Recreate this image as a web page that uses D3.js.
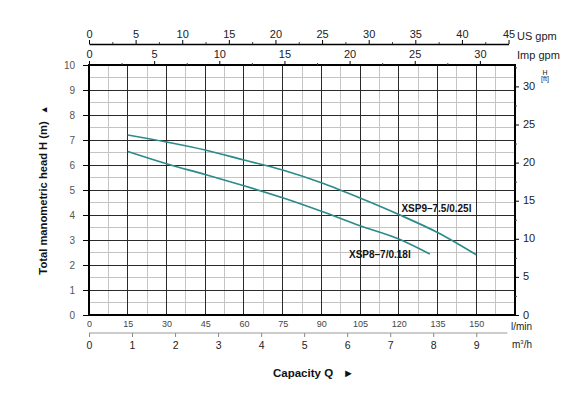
<!DOCTYPE html>
<html>
<head>
	<meta charset="utf-8">
	<title>XSP pump curves</title>
	<script src="https://d3js.org/d3.v7.min.js"></script>
	<style>
		body { margin: 0; background: #fff; }
		svg { display: block; font-family: 'Liberation Sans', Arial, sans-serif; }
	</style>
</head>
<body>
	<div class="chart"></div>

	<script type="text/javascript">

		// flow (l/min) and head (m)
		var flowXsp9 = [15, 30, 45, 60, 75, 90, 105, 120, 135, 150]
		var headXsp9 = [7.2, 6.92, 6.6, 6.2, 5.8, 5.29, 4.68, 4.02, 3.3, 2.41]
		var flowXsp8 = [15, 30, 45, 60, 75, 90, 105, 120, 132]
		var headXsp8 = [6.54, 6.05, 5.62, 5.17, 4.69, 4.15, 3.57, 3.04, 2.44]
		var seriesNames = ['XSP9–7.5/0.25l', 'XSP8–7/0.18l']

		// tick labels
		var lminTicks = [0, 15, 30, 45, 60, 75, 90, 105, 120, 135, 150]
		var m3hTicks = [0, 1, 2, 3, 4, 5, 6, 7, 8, 9]
		var usGpmTicks = [0, 5, 10, 15, 20, 25, 30, 35, 40, 45]
		var impGpmTicks = [0, 5, 10, 15, 20, 25, 30]
		var headTicks = [0, 1, 2, 3, 4, 5, 6, 7, 8, 9, 10]
		var ftTicks = [0, 5, 10, 15, 20, 25, 30]

		var width = 572
		var height = 402
		var plotLeft = 89, plotRight = 515, plotTop = 65, plotBottom = 315
		var curveColor = '#2b8a8a'

		var svg = d3
			.select('.chart')
			.append('svg')
			.attr('width', width)
			.attr('height', height)

		/**
		 * scales
		 */
		var x = d3.scaleLinear().domain([0, 165]).range([plotLeft, plotRight])
		var y = d3.scaleLinear().domain([0, 10]).range([plotBottom, plotTop])
		var yFt = d3.scaleLinear().domain([0, 10 * 3.2808]).range([plotBottom, plotTop])
		var xM3 = d3.scaleLinear().domain([0, 165 * 0.06]).range([plotLeft, plotRight])
		// the printed gpm scales do not follow the exact conversion, match the sheet
		var xUs = d3.scaleLinear().domain([0, 45]).range([plotLeft, x(162.5)])
		var xImp = d3.scaleLinear().domain([0, 30]).range([plotLeft, x(151.4)])

		/**
		 * grid
		 */
		var grid = svg.append('g').attr('shape-rendering', 'crispEdges')

		grid.selectAll()
			.data(d3.range(7.5, 165, 15))
			.enter()
			.append('line')
			.attr('x1', (d) => x(d)).attr('x2', (d) => x(d))
			.attr('y1', plotTop).attr('y2', plotBottom)
			.attr('stroke', '#c4c4c4')

		grid.selectAll()
			.data(d3.range(0.5, 10, 1))
			.enter()
			.append('line')
			.attr('y1', (d) => y(d)).attr('y2', (d) => y(d))
			.attr('x1', plotLeft).attr('x2', plotRight)
			.attr('stroke', '#c4c4c4')

		grid.selectAll()
			.data(d3.range(15, 165, 15))
			.enter()
			.append('line')
			.attr('x1', (d) => x(d)).attr('x2', (d) => x(d))
			.attr('y1', plotTop).attr('y2', plotBottom)
			.attr('stroke', '#2a2a2a')

		grid.selectAll()
			.data(d3.range(1, 10, 1))
			.enter()
			.append('line')
			.attr('y1', (d) => y(d)).attr('y2', (d) => y(d))
			.attr('x1', plotLeft).attr('x2', plotRight)
			.attr('stroke', '#2a2a2a')

		grid.append('rect')
			.attr('x', plotLeft).attr('y', plotTop)
			.attr('width', plotRight - plotLeft).attr('height', plotBottom - plotTop)
			.attr('fill', 'none')
			.attr('stroke', '#000')
			.attr('stroke-width', 1.3)

		/**
		 * axes
		 */
		function styleAxis(g, size, color) {
			g.selectAll('text')
				.style('font-size', size + 'px')
				.attr('fill', color)
				.style('font-family', "'Liberation Sans', Arial, sans-serif")
			g.selectAll('line').attr('stroke', '#000')
		}

		// left head (m)
		var axLeft = svg.append('g')
			.attr('transform', `translate(${plotLeft}, 0)`)
			.call(d3.axisLeft(y).tickValues(headTicks).tickSize(6).tickPadding(8))
		axLeft.select('.domain').remove()
		styleAxis(axLeft, 10, '#555')

		// right head (ft)
		var axRight = svg.append('g')
			.attr('transform', `translate(${plotRight}, 0)`)
			.call(d3.axisRight(yFt).tickValues(ftTicks).tickSize(4).tickPadding(4))
		axRight.select('.domain').remove()
		styleAxis(axRight, 11, '#222')
		axRight.selectAll('text').attr('dy', '0.28em')

		var axRightMinor = svg.append('g')
			.attr('transform', `translate(${plotRight}, 0)`)
			.call(d3.axisRight(yFt).tickValues(d3.range(2.5, 33, 5)).tickSize(2).tickFormat(''))
		axRightMinor.select('.domain').remove()
		axRightMinor.selectAll('line').attr('stroke', '#444')

		// top Imp gpm on the frame
		var axImp = svg.append('g')
			.attr('transform', `translate(0, ${plotTop})`)
			.call(d3.axisTop(xImp).tickValues(impGpmTicks).tickSize(4).tickPadding(3))
		axImp.select('.domain').remove()
		styleAxis(axImp, 11, '#222')

		var axImpMinor = svg.append('g')
			.attr('transform', `translate(0, ${plotTop})`)
			.call(d3.axisTop(xImp).tickValues(d3.range(2.5, 31, 5)).tickSize(2).tickFormat(''))
		axImpMinor.select('.domain').remove()
		axImpMinor.selectAll('line').attr('stroke', '#444')

		// top US gpm, own line
		var axUs = svg.append('g')
			.attr('transform', 'translate(0, 44)')
			.call(d3.axisTop(xUs).tickValues(usGpmTicks).tickSize(4).tickSizeOuter(0).tickPadding(2))
		axUs.select('.domain').attr('stroke', '#000').attr('stroke-width', 1.3)
		styleAxis(axUs, 11, '#222')

		var axUsMinor = svg.append('g')
			.attr('transform', 'translate(0, 44)')
			.call(d3.axisTop(xUs).tickValues(d3.range(2.5, 45, 5)).tickSize(2).tickFormat(''))
		axUsMinor.select('.domain').remove()
		axUsMinor.selectAll('line').attr('stroke', '#444')

		// bottom l/min, labels only
		var axLmin = svg.append('g')
			.attr('transform', `translate(0, ${plotBottom})`)
			.call(d3.axisBottom(x).tickValues(lminTicks).tickSize(0).tickPadding(6))
		axLmin.select('.domain').remove()
		styleAxis(axLmin, 9, '#444')

		// bottom m3/h
		var axM3 = svg.append('g')
			.attr('transform', 'translate(0, 333)')
			.call(d3.axisBottom(xM3).tickValues(m3hTicks).tickSize(4).tickPadding(5))
		axM3.select('.domain').remove()
		styleAxis(axM3, 10.5, '#222')
		axM3.selectAll('line').attr('stroke', '#888')
		axM3.append('line')
			.attr('x1', plotLeft).attr('x2', x(162))
			.attr('stroke', '#999')
			.attr('stroke-width', 1.2)

		/**
		 * unit labels and titles
		 */
		var units = svg.append('g').attr('fill', '#222')
		units.append('text').attr('x', 517).attr('y', 40).style('font-size', '11px').text('US gpm')
		units.append('text').attr('x', 517).attr('y', 59).style('font-size', '11px').text('Imp gpm')
		units.append('text').attr('x', 545).attr('y', 75).attr('text-anchor', 'middle').style('font-size', '7px').text('H')
		units.append('text').attr('x', 545).attr('y', 81).attr('text-anchor', 'middle').style('font-size', '7px').text('[ft]')
		units.append('text').attr('x', 511).attr('y', 330).style('font-size', '10px').text('l/min')
		var m3 = units.append('text').attr('x', 512).attr('y', 348).style('font-size', '10px')
		m3.append('tspan').text('m')
		m3.append('tspan').attr('dy', -4).style('font-size', '6px').text('3')
		m3.append('tspan').attr('dy', 4).text('/h')

		var yTitle = svg.append('text')
			.attr('transform', `translate(47, ${(plotTop + plotBottom) / 2}) rotate(-90)`)
			.attr('text-anchor', 'middle')
			.style('font-size', '11.2px')
			.style('font-weight', 'bold')
			.attr('fill', '#111')
		yTitle.append('tspan').text('Total manometric head H (m)')
		yTitle.append('tspan').attr('dx', 7).style('font-size', '9px').text('▲')

		var xTitle = svg.append('text')
			.attr('x', 273)
			.attr('y', 377)
			.style('font-size', '11.5px')
			.style('font-weight', 'bold')
			.attr('fill', '#111')
		xTitle.append('tspan').text('Capacity Q')
		xTitle.append('tspan').attr('dx', 10).style('font-size', '11px').text('►')

		/**
		 * pump curves
		 */
		var line = d3.line()
			.x((d) => x(d[0]))
			.y((d) => y(d[1]))
			.curve(d3.curveMonotoneX)

		var series = [
			d3.zip(flowXsp9, headXsp9),
			d3.zip(flowXsp8, headXsp8)
		]

		svg.append('g')
			.selectAll()
			.data(series)
			.enter()
			.append('path')
			.attr('d', line)
			.attr('fill', 'none')
			.attr('stroke', curveColor)
			.attr('stroke-width', 1.7)

		// curve names, placed beside their lines
		var labelAt = [[121, 4.14], [100.7, 2.28]]
		svg.append('g')
			.selectAll()
			.data(seriesNames)
			.enter()
			.append('text')
			.attr('x', (d, i) => x(labelAt[i][0]))
			.attr('y', (d, i) => y(labelAt[i][1]))
			.style('font-size', '10px')
			.style('font-weight', 'bold')
			.attr('fill', '#111')
			.text((d) => d)

	</script>
</body>
</html>
